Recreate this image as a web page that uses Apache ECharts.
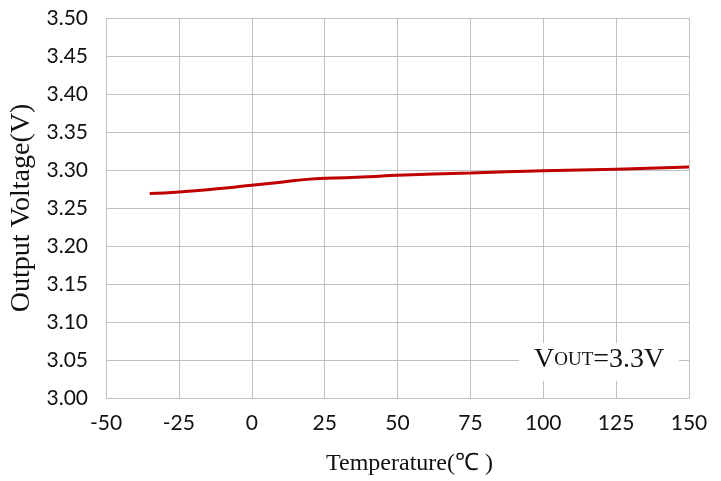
<!DOCTYPE html>
<html>
<head>
<meta charset="utf-8">
<script src="https://cdn.jsdelivr.net/npm/echarts@6/dist/echarts.min.js"></script>
<style>html,body{margin:0;padding:0;background:#fff}#c{width:721px;height:481px}</style>
</head>
<body>
<div id="c"></div>
<script>
const temperatures = [-35, -25, -10, 0, 10, 20, 25, 40, 50, 75, 100, 125, 150];
const outputVoltage = [3.269, 3.271, 3.276, 3.280, 3.284, 3.288, 3.289, 3.291, 3.293, 3.296, 3.299, 3.301, 3.304];
const xTicks = [-50, -25, 0, 25, 50, 75, 100, 125, 150];
const yTicks = [3.00, 3.05, 3.10, 3.15, 3.20, 3.25, 3.30, 3.35, 3.40, 3.45, 3.50];

const chart = echarts.init(document.getElementById('c'), null, {renderer: 'canvas'});
const gridColor = '#c0c0c0';
chart.setOption({
  animation: false,
  backgroundColor: '#fff',
  grid: {left: 106, right: 32, top: 18, bottom: 83, containLabel: false, outerBoundsMode: 'none'},
  xAxis: {
    type: 'value', min: xTicks[0], max: xTicks[xTicks.length - 1], interval: 25,
    name: 'Temperature(℃ )', nameLocation: 'middle', nameGap: 54,
    nameTextStyle: {fontFamily: 'Liberation Serif', fontSize: 24, color: '#111', padding: [0, 0, 0, 24]},
    axisLine: {show: true, lineStyle: {color: gridColor}},
    axisTick: {show: false},
    axisLabel: {fontFamily: 'Lato', fontSize: 21, color: '#111', margin: 15},
    splitLine: {show: true, lineStyle: {color: gridColor, width: 1}}
  },
  yAxis: {
    type: 'value', min: yTicks[0], max: yTicks[yTicks.length - 1], interval: 0.05,
    name: 'Output Voltage(V)', nameLocation: 'middle', nameGap: 61, nameRotate: 90,
    nameTextStyle: {fontFamily: 'Liberation Serif', fontSize: 28, color: '#111'},
    axisLine: {show: true, lineStyle: {color: gridColor}},
    axisTick: {show: false},
    axisLabel: {fontFamily: 'Lato', fontSize: 21, color: '#111', margin: 18,
      formatter: v => v.toFixed(2)},
    splitLine: {show: true, lineStyle: {color: gridColor, width: 1}}
  },
  series: [{
    type: 'line',
    data: temperatures.map((t, i) => [t, outputVoltage[i]]),
    smooth: true,
    showSymbol: false,
    lineStyle: {color: '#c00000', width: 3}
  }],
  graphic: [{
    type: 'rect', left: 519, top: 343, shape: {width: 160, height: 38},
    style: {fill: '#fff'}, z: 10
  }, {
    type: 'text', left: 534, top: 346, z: 11,
    style: {
      text: '{a|V}{b|OUT}{a|=3.3V}',
      rich: {
        a: {fontFamily: 'Liberation Serif', fontSize: 28, fill: '#111'},
        b: {fontFamily: 'Liberation Serif', fontSize: 19, fill: '#111'}
      }
    }
  }]
});
</script>
</body>
</html>
